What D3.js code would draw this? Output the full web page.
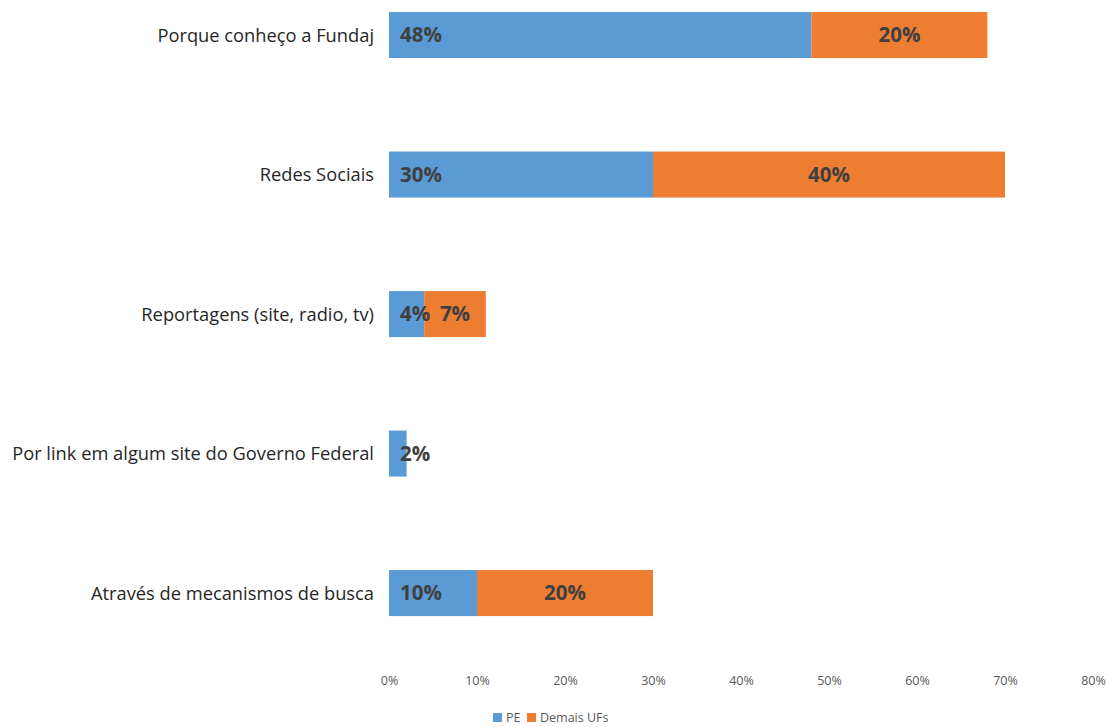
<!DOCTYPE html>
<html>
<head>
<meta charset="utf-8">
<script src="https://cdn.jsdelivr.net/npm/d3@7"></script>
<style>
  html, body { margin: 0; padding: 0; background: #fff; }
  svg text { font-family: "Open Sans", Lato, sans-serif; }
</style>
</head>
<body>
<svg id="chart" width="1107" height="727"></svg>
<script>
// Categories (top to bottom) and the two stacked series, in percent
const categories = [
  "Porque conheço a Fundaj",
  "Redes Sociais",
  "Reportagens (site, radio, tv)",
  "Por link em algum site do Governo Federal",
  "Através de mecanismos de busca"
];
const pe = [48, 30, 4, 2, 10];
const demaisUFs = [20, 40, 7, 0, 20];
const seriesNames = ["PE", "Demais UFs"];
const tickValues = [0, 10, 20, 30, 40, 50, 60, 70, 80];

const colors = ["#5B9BD5", "#ED7D31"];
const svg = d3.select("#chart");

const x = d3.scaleLinear().domain([0, 80]).range([389, 1093]);
const y = d3.scaleBand().domain(categories).range([-34.7, 662.8])
  .paddingInner(0.67).paddingOuter(0.335);

const rows = categories.map((c, i) => ({ cat: c, PE: pe[i], "Demais UFs": demaisUFs[i] }));
const stacked = d3.stack().keys(seriesNames)(rows);

// Bars
stacked.forEach((layer, si) => {
  svg.append("g").selectAll("rect")
    .data(layer.filter(d => d[1] > d[0]))
    .join("rect")
    .attr("x", d => x(d[0]))
    .attr("y", d => y(d.data.cat))
    .attr("width", d => x(d[1]) - x(d[0]))
    .attr("height", y.bandwidth())
    .attr("fill", colors[si]);
});

// Value labels: PE at the inside base, Demais UFs centred
stacked.forEach((layer, si) => {
  svg.append("g").selectAll("text")
    .data(layer.filter(d => d[1] > d[0]))
    .join("text")
    .attr("x", d => si === 0 ? x(d[0]) + 11 : (x(d[0]) + x(d[1])) / 2)
    .attr("y", d => y(d.data.cat) + y.bandwidth() / 2)
    .attr("dy", "0.36em")
    .attr("text-anchor", si === 0 ? "start" : "middle")
    .attr("font-size", 20.5)
    .attr("font-weight", "bold")
    .attr("fill", "#404040")
    .text(d => (d[1] - d[0]) + "%");
});

// Category labels
svg.append("g").selectAll("text")
  .data(categories)
  .join("text")
  .attr("x", 374)
  .attr("y", d => y(d) + y.bandwidth() / 2)
  .attr("dy", "0.36em")
  .attr("text-anchor", "end")
  .attr("font-size", 18.3)
  .attr("fill", "#262626")
  .text(d => d);

// X axis tick labels
const axis = d3.axisBottom(x).tickValues(tickValues)
  .tickFormat(d => d + "%").tickSize(0).tickPadding(0);
const ax = svg.append("g").attr("transform", "translate(0,676)").call(axis);
ax.select(".domain").remove();
ax.selectAll("text")
  .attr("font-size", 12.5)
  .attr("fill", "#595959")
  .style("font-family", "'Open Sans', Lato, sans-serif");

// Legend
const legend = svg.append("g").attr("transform", "translate(493,718)");
const lx = [0, 34];
seriesNames.forEach((name, i) => {
  const g = legend.append("g").attr("transform", `translate(${lx[i]},0)`);
  g.append("rect").attr("x", 0).attr("y", -5).attr("width", 9).attr("height", 9).attr("fill", colors[i]);
  g.append("text").attr("x", 13).attr("y", 0).attr("dy", "0.35em")
    .attr("font-size", 12.5).attr("fill", "#595959").text(name);
});
</script>
</body>
</html>
